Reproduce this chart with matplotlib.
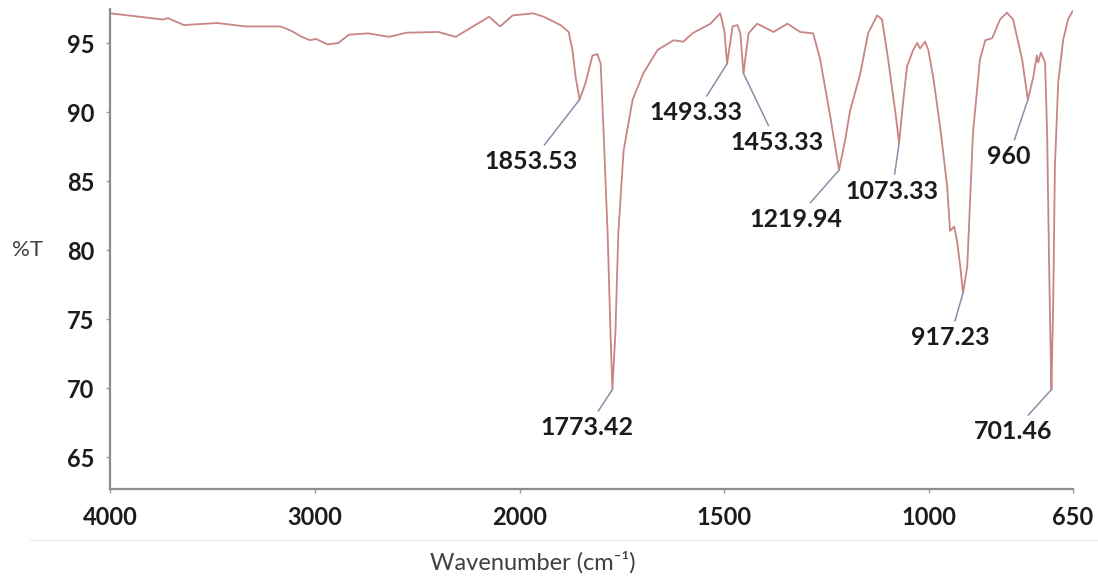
import numpy as np
import matplotlib
matplotlib.use("Agg")
import matplotlib.pyplot as plt

plt.rcParams['font.family'] = ['Lato', 'DejaVu Sans']

# IR spectrum, wavenumber (cm-1) vs transmittance (%T)
wavenumber = [4000, 3854, 3741, 3717, 3639, 3476, 3339, 3167, 3117, 3064,
              3022, 2995, 2937, 2885, 2834, 2741, 2637, 2551, 2397, 2312,
              2244, 2149, 2095, 2034, 1966, 1941, 1900, 1880, 1871, 1863,
              1853.53, 1839, 1822, 1810, 1802, 1795, 1785, 1778, 1773.42, 1766,
              1759, 1746, 1724, 1698, 1663, 1624, 1600, 1578, 1534, 1510,
              1500, 1493.33, 1480, 1468, 1461, 1453.33, 1441, 1420, 1380, 1346,
              1315, 1283, 1266, 1241, 1219.94, 1205, 1193, 1168, 1149, 1127,
              1115, 1100, 1083, 1073.33, 1063, 1054, 1039, 1029, 1022, 1010,
              1002, 990, 973, 956, 949, 939, 932, 924, 917.23, 907,
              900, 893, 876, 863, 846, 827, 810, 795, 773, 759,
              746, 737, 734, 727, 717, 712, 707, 703, 701.46, 697,
              693, 685, 673, 661, 650]
transmittance = [97.15, 96.9, 96.7, 96.8, 96.3, 96.45, 96.2, 96.2, 95.9, 95.45,
                 95.2, 95.3, 94.9, 95.0, 95.6, 95.7, 95.45, 95.75, 95.8, 95.45,
                 96.05, 96.9, 96.2, 97.0, 97.15, 96.9, 96.3, 95.8, 94.5, 92.5,
                 90.9, 92.1, 94.1, 94.2, 93.5, 88.6, 81.2, 74.0, 69.9, 74.0,
                 81.2, 87.2, 90.9, 92.8, 94.5, 95.2, 95.1, 95.7, 96.4, 97.15,
                 95.9, 93.5, 96.2, 96.3, 95.7, 92.8, 95.7, 96.4, 95.8, 96.4,
                 95.8, 95.7, 93.8, 89.6, 85.8, 88.0, 90.1, 92.8, 95.7, 97.0,
                 96.7, 93.8, 90.1, 87.75, 90.9, 93.3, 94.5, 95.0, 94.6, 95.1,
                 94.5, 92.5, 88.9, 84.6, 81.4, 81.7, 80.7, 78.8, 76.9, 78.8,
                 83.6, 88.5, 93.8, 95.2, 95.35, 96.7, 97.2, 96.7, 93.8, 90.9,
                 92.5, 94.1, 93.6, 94.3, 93.6, 88.5, 78.8, 72.0, 69.9, 76.4,
                 86.0, 92.1, 95.2, 96.7, 97.3]

# labelled bands
peak_labels = ['1853.53', '1773.42', '1493.33', '1453.33', '1219.94',
               '1073.33', '960', '917.23', '701.46']
peak_wn = [1853.53, 1773.42, 1493.33, 1453.33, 1219.94, 1073.33, 759, 917.23, 701.46]

x_ticks = [4000, 3000, 2000, 1500, 1000, 650]
y_ticks = [65, 70, 75, 80, 85, 90, 95]

# label offsets from the band, in points
label_offsets = [(-34.6, -44.6), (-18, -27.4), (-22.3, -35.3), (23.8, -49.7),
                 (-31, -35.3), (-5, -34.6), (-13.7, -41), (-9.4, -32.4),
                 (-27.4, -30.2)]


# instrument axis: half scale above 2000 cm-1
def fwd(w):
    w = np.asarray(w, dtype=float)
    return np.where(w > 2000, 2000 + (w - 2000) / 2, w)


def inv(u):
    u = np.asarray(u, dtype=float)
    return np.where(u > 2000, 2000 + (u - 2000) * 2, u)


fig = plt.figure(figsize=(10.98, 5.81), dpi=100)
ax = fig.add_axes([110 / 1098, 1 - 489 / 581, 962.5 / 1098, 480.5 / 581])

ax.plot(wavenumber, transmittance, color='#c98484', lw=1.3)

ax.set_xscale('function', functions=(fwd, inv))
ax.set_xlim(4000, 650)
ax.set_ylim(62.7, 97.5)
ax.set_xticks(x_ticks)
ax.set_xticklabels([str(t) for t in x_ticks])
ax.set_yticks(y_ticks)
ax.minorticks_off()

for side in ['top', 'right']:
    ax.spines[side].set_visible(False)
for side in ['left', 'bottom']:
    ax.spines[side].set_color('#8c8c8c')
    ax.spines[side].set_linewidth(1.6)

ax.tick_params(axis='both', length=3, width=1, color='#9a9a9a',
               labelsize=17, labelcolor='#1c1c1c')
ax.tick_params(axis='x', pad=9)
ax.tick_params(axis='y', pad=8)
for lbl in ax.get_xticklabels() + ax.get_yticklabels():
    lbl.set_fontweight('bold')

wn_rev = np.array(wavenumber)[::-1]
t_rev = np.array(transmittance)[::-1]
for lab, wn, off in zip(peak_labels, peak_wn, label_offsets):
    t = np.interp(wn, wn_rev, t_rev)
    ax.annotate(lab, xy=(wn, t), xytext=off, textcoords='offset points',
                ha='center', va='center', fontsize=18, fontweight='bold',
                color='#1c1c1c',
                arrowprops=dict(arrowstyle='-', color='#8a8fa8', lw=1.1,
                                shrinkA=2, shrinkB=0))

fig.text(28 / 1098, 1 - 250 / 581, '%T', fontsize=16, color='#404040',
         ha='center', va='center')
fig.text(533 / 1098, 1 - 562 / 581, 'Wavenumber (cm⁻¹)', fontsize=17,
         color='#404040', ha='center', va='center')
fig.add_artist(plt.Line2D([30 / 1098, 1], [1 - 540 / 581] * 2,
                          color='#eeeeee', lw=1))

fig.savefig('out.png', dpi=100)
